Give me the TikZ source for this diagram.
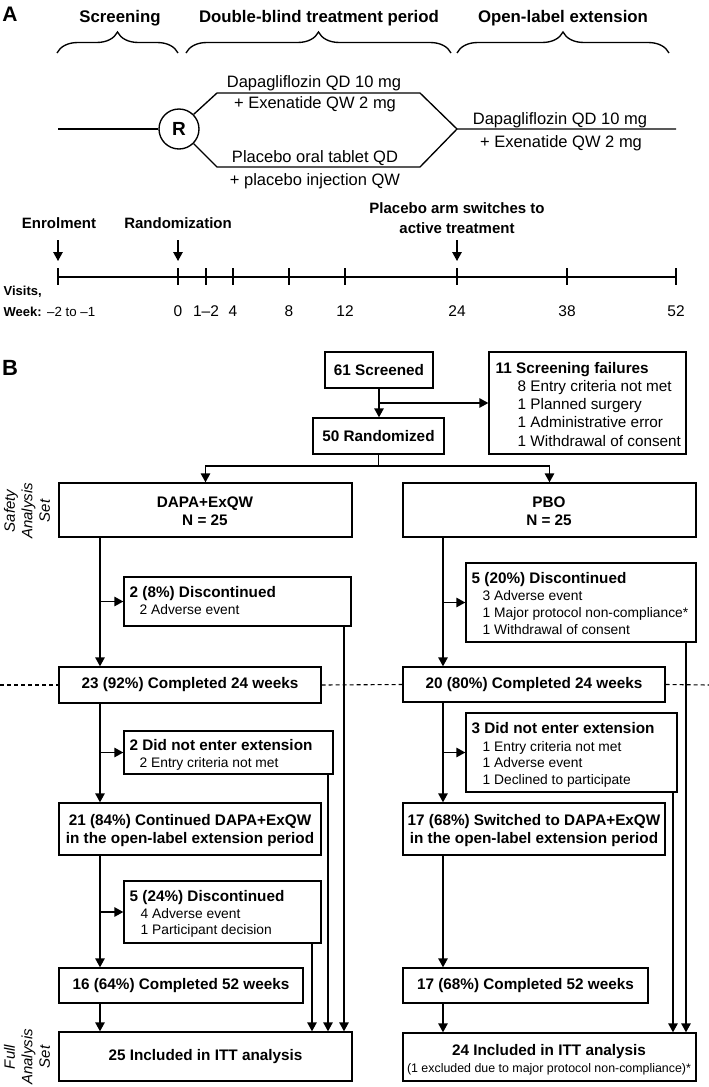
\documentclass[tikz,border=0pt]{standalone}
\usepackage{fontspec}
\setmainfont{Liberation Sans}
\usetikzlibrary{arrows.meta,decorations.pathreplacing}
\newcommand{\szA}{\fontsize{16.5}{19}\selectfont}
\newcommand{\szH}{\fontsize{16.8}{19}\selectfont\bfseries}
\newcommand{\szT}{\fontsize{15}{18}\selectfont\bfseries}
\newcommand{\szN}{\fontsize{15.5}{18}\selectfont}
\newcommand{\szB}{\fontsize{15.3}{18}\selectfont\bfseries}
\newcommand{\szS}{\fontsize{13.8}{16}\selectfont}
\newcommand{\szF}{\fontsize{15.3}{18}\selectfont}
\newcommand{\szSm}{\fontsize{12.4}{15}\selectfont}
\newcommand{\szV}{\fontsize{13}{15}\selectfont\bfseries}
\newcommand{\szI}{\fontsize{15}{17.5}\selectfont\itshape}
\newcommand{\bx}[7]{\node[boxst, minimum width={(#4-#2)*1pt}, minimum height={(#5-#3)*1pt}, #6] (#1) at ({(#2+#4)/2},{(#3+#5)/2}) {#7};}
\begin{document}
\begin{tikzpicture}[x=1pt,y=-1pt, line width=1.35pt,
  arr/.style={-{Triangle[width=9.5pt,length=9pt]}},
  boxst/.style={draw, rectangle, inner sep=0pt},
  txt/.style={inner sep=0pt, anchor=base},
  tw/.style={inner sep=0pt, anchor=base west},
  ttl/.style={tw, font=\szB},
  sub/.style={tw, font=\szS},
  fsub/.style={tw, font=\szF},
  brc/.style={decorate, decoration={brace, amplitude=21pt}},
  dsh/.style={line width=1.1pt, dash pattern=on 4pt off 3pt}]
\useasboundingbox (0,0) rectangle (709,1087);
% ---------- Panel A ----------
\node[font=\fontsize{21}{24}\selectfont\bfseries, inner sep=0pt] (labA) at (10,14) {A};
\node[txt, font=\szH] (hScr) at (120,22) {Screening};
\node[txt, font=\szH] (hDB) at (319,22) {Double-blind treatment period};
\node[txt, font=\szH] (hOL) at (563,22) {Open-label extension};
\draw[brc] (57,53) -- (178,53);
\draw[brc] (186,53) -- (451,53);
\draw[brc] (457,53) -- (669,53);
\node[circle, draw, minimum size=40pt, inner sep=0pt, font=\fontsize{19}{20}\selectfont\bfseries] (R) at (179,129) {R};
\coordinate (s0) at (58,129);
\coordinate (ta) at (217,93);
\coordinate (tb) at (420,93);
\coordinate (mj) at (457,129);
\coordinate (ba) at (217,167);
\coordinate (bb) at (420,167);
\coordinate (e0) at (676,129);
\draw (s0) -- (R.west);
\draw (R.45) -- (ta) -- (tb) -- (mj) -- (e0);
\draw (R.-45) -- (ba) -- (bb) -- (mj);
\node[txt, font=\szA] (a1) at (314,87) {Dapagliflozin QD 10 mg};
\node[txt, font=\szA] (a2) at (315,108) {+ Exenatide QW 2 mg};
\node[txt, font=\szA] (a3) at (315,162) {Placebo oral tablet QD};
\node[txt, font=\szA] (a4) at (315,185) {+ placebo injection QW};
\node[txt, font=\szA] (a5) at (560,124) {Dapagliflozin QD 10 mg};
\node[txt, font=\szA] (a6) at (561,147) {+ Exenatide QW 2 mg};
% timeline
\node[txt, font=\szT] (en) at (59,228) {Enrolment};
\node[txt, font=\szT] (rz) at (178,228) {Randomization};
\node[txt, font=\szT] (pa1) at (457,213) {Placebo arm switches to};
\node[txt, font=\szT] (pa2) at (457,233) {active treatment};
\coordinate (enA) at (58,240); \coordinate (enB) at (58,261);
\coordinate (rzA) at (178,240); \coordinate (rzB) at (178,261);
\coordinate (paA) at (457,240); \coordinate (paB) at (457,261);
\draw[arr] (enA) -- (enB);
\draw[arr] (rzA) -- (rzB);
\draw[arr] (paA) -- (paB);
\coordinate (tl0) at (58,277); \coordinate (tl1) at (676,277);
\draw (tl0) -- (tl1);
\foreach \x in {58,178,206,233,289,345,457,567,676} \draw (\x,268) -- (\x,285);
\foreach \x/\l [count=\i] in {178/0,206/1--2,233/4,289/8,345/12,457/24,567/38,676/52}
  \node[txt, font=\szN] (wk\i) at (\x,316) {\l};
\node[tw, font=\szV] (vis) at (3,295) {Visits,};
\node[tw, font=\szV] (wkl) at (3,316) {Week:};
\node[tw, font=\fontsize{13.3}{16}\selectfont] (wkr) at (46.5,316) {--2 to --1};
% ---------- Panel B ----------
\node[font=\fontsize{22}{24}\selectfont\bfseries, inner sep=0pt] (labB) at (10,368) {B};
\bx{scr}{325}{352}{433}{388}{font=\szB}{61 Screened}
\bx{fail}{489}{352}{686}{454}{}{}
\bx{rand}{313}{418}{444}{454}{font=\szB}{50 Randomized}
\bx{dapa}{59}{483}{352}{537}{}{}
\bx{pbo}{403}{483}{696}{537}{}{}
\bx{dA}{124}{577}{351}{626}{}{}
\bx{cA}{59}{667}{321}{703}{font=\szB}{23 (92\%) Completed 24 weeks}
\bx{nA}{124}{731}{333}{774}{}{}
\bx{oA}{59}{803}{321}{855}{}{}
\bx{eA}{124}{881}{321}{943}{}{}
\bx{fA}{59}{968}{303}{1003}{font=\szB}{16 (64\%) Completed 52 weeks}
\bx{iA}{59}{1032}{352}{1081}{font=\szB}{25 Included in ITT analysis}
\bx{dB}{466}{563}{696}{642}{}{}
\bx{cB}{403}{667}{665}{702}{font=\szB}{20 (80\%) Completed 24 weeks}
\bx{nB}{466}{713}{677}{792}{}{}
\bx{oB}{403}{803}{665}{855}{}{}
\bx{fB}{403}{968}{648}{1003}{font=\szB}{17 (68\%) Completed 52 weeks}
\bx{iB}{403}{1033}{696}{1081}{}{}
% texts
\node[ttl] (failT) at (495,373) {11 Screening failures};
\node[fsub] (fail1) at (517,391) {8 Entry criteria not met};
\node[fsub] (fail2) at (517,409) {1 Planned surgery};
\node[fsub] (fail3) at (517,427.5) {1 Administrative error};
\node[fsub] (fail4) at (517,446) {1 Withdrawal of consent};
\node[txt, font=\szB] (dapaT1) at (205,507) {DAPA+ExQW};
\node[txt, font=\szB] (dapaT2) at (205,525) {N = 25};
\node[txt, font=\szB] (pboT1) at (549,507) {PBO};
\node[txt, font=\szB] (pboT2) at (549,525) {N = 25};
\node[ttl] (dAT) at (129,597) {2 (8\%) Discontinued};
\node[sub] (dA1) at (139,614) {2 Adverse event};
\node[ttl] (nAT) at (129,750) {2 Did not enter extension};
\node[sub] (nA1) at (139,767) {2 Entry criteria not met};
\node[txt, font=\szB] (oAT1) at (190,825) {21 (84\%) Continued DAPA+ExQW};
\node[txt, font=\szB] (oAT2) at (190,843) {in the open-label extension period};
\node[ttl] (eAT) at (129,901) {5 (24\%) Discontinued};
\node[sub] (eA1) at (140,918) {4 Adverse event};
\node[sub] (eA2) at (140,934) {1 Participant decision};
\node[ttl] (dBT) at (471,583) {5 (20\%) Discontinued};
\node[sub] (dB1) at (482,600) {3 Adverse event};
\node[sub] (dB2) at (482,617) {1 Major protocol non-compliance*};
\node[sub] (dB3) at (482,634) {1 Withdrawal of consent};
\node[ttl] (nBT) at (471,733) {3 Did not enter extension};
\node[sub] (nB1) at (482,751) {1 Entry criteria not met};
\node[sub] (nB2) at (482,767) {1 Adverse event};
\node[sub] (nB3) at (482,784) {1 Declined to participate};
\node[txt, font=\szB] (oBT1) at (534,825) {17 (68\%) Switched to DAPA+ExQW};
\node[txt, font=\szB] (oBT2) at (534,843) {in the open-label extension period};
\node[txt, font=\szB] (iBT1) at (549,1055) {24 Included in ITT analysis};
\node[txt, font=\szSm] (iBT2) at (549,1072) {(1 excluded due to major protocol non-compliance)*};
\node[rotate=90, align=center, font=\szI, inner sep=0pt] (saf) at (27,511) {Safety\\Analysis\\Set};
\node[rotate=90, align=center, font=\szI, inner sep=0pt] (fas) at (27,1057) {Full\\Analysis\\Set};
% connectors
\coordinate (xL) at (100,0);
\coordinate (xR) at (443,0);
\coordinate (x1) at (344,0);
\coordinate (x2) at (328,0);
\coordinate (x3) at (312,0);
\coordinate (x4) at (686,0);
\coordinate (x5) at (673,0);
\coordinate (sp) at (378.5,466);
\draw[arr] (scr.south) -- (scr.south |- rand.north);
\draw[arr] (scr.south |- fail.west) -- (fail.west);
\draw (rand.south) -- (sp);
\draw[arr] (sp) -| (dapa.north);
\draw[arr] (sp) -| (pbo.north);
\draw[arr] (dapa.south -| xL) -- (cA.north -| xL);
\draw[arr] (xL |- dA.west) -- (dA.west);
\draw[arr] (cA.south -| xL) -- (oA.north -| xL);
\draw[arr] (xL |- nA.west) -- (nA.west);
\draw[arr] (oA.south -| xL) -- (fA.north -| xL);
\draw[arr] (xL |- eA.west) -- (eA.west);
\draw[arr] (fA.south -| xL) -- (iA.north -| xL);
\draw[arr] (dA.south -| x1) -- (iA.north -| x1);
\draw[arr] (nA.south -| x2) -- (iA.north -| x2);
\draw[arr] (eA.south -| x3) -- (iA.north -| x3);
\draw[arr] (pbo.south -| xR) -- (cB.north -| xR);
\draw[arr] (xR |- dB.west) -- (dB.west);
\draw[arr] (cB.south -| xR) -- (oB.north -| xR);
\draw[arr] (xR |- nB.west) -- (nB.west);
\draw[arr] (oB.south -| xR) -- (fB.north -| xR);
\draw[arr] (fB.south -| xR) -- (iB.north -| xR);
\draw[arr] (dB.south -| x4) -- (iB.north -| x4);
\draw[arr] (nB.south -| x5) -- (iB.north -| x5);
\coordinate (dl) at (0,685);
\coordinate (dr) at (709,685);
\draw[dsh] (dl) -- (cA.west);
\draw[dsh] (cA.east) -- (cB.west);
\draw[dsh] (cB.east) -- (dr);
\end{tikzpicture}
\end{document}
